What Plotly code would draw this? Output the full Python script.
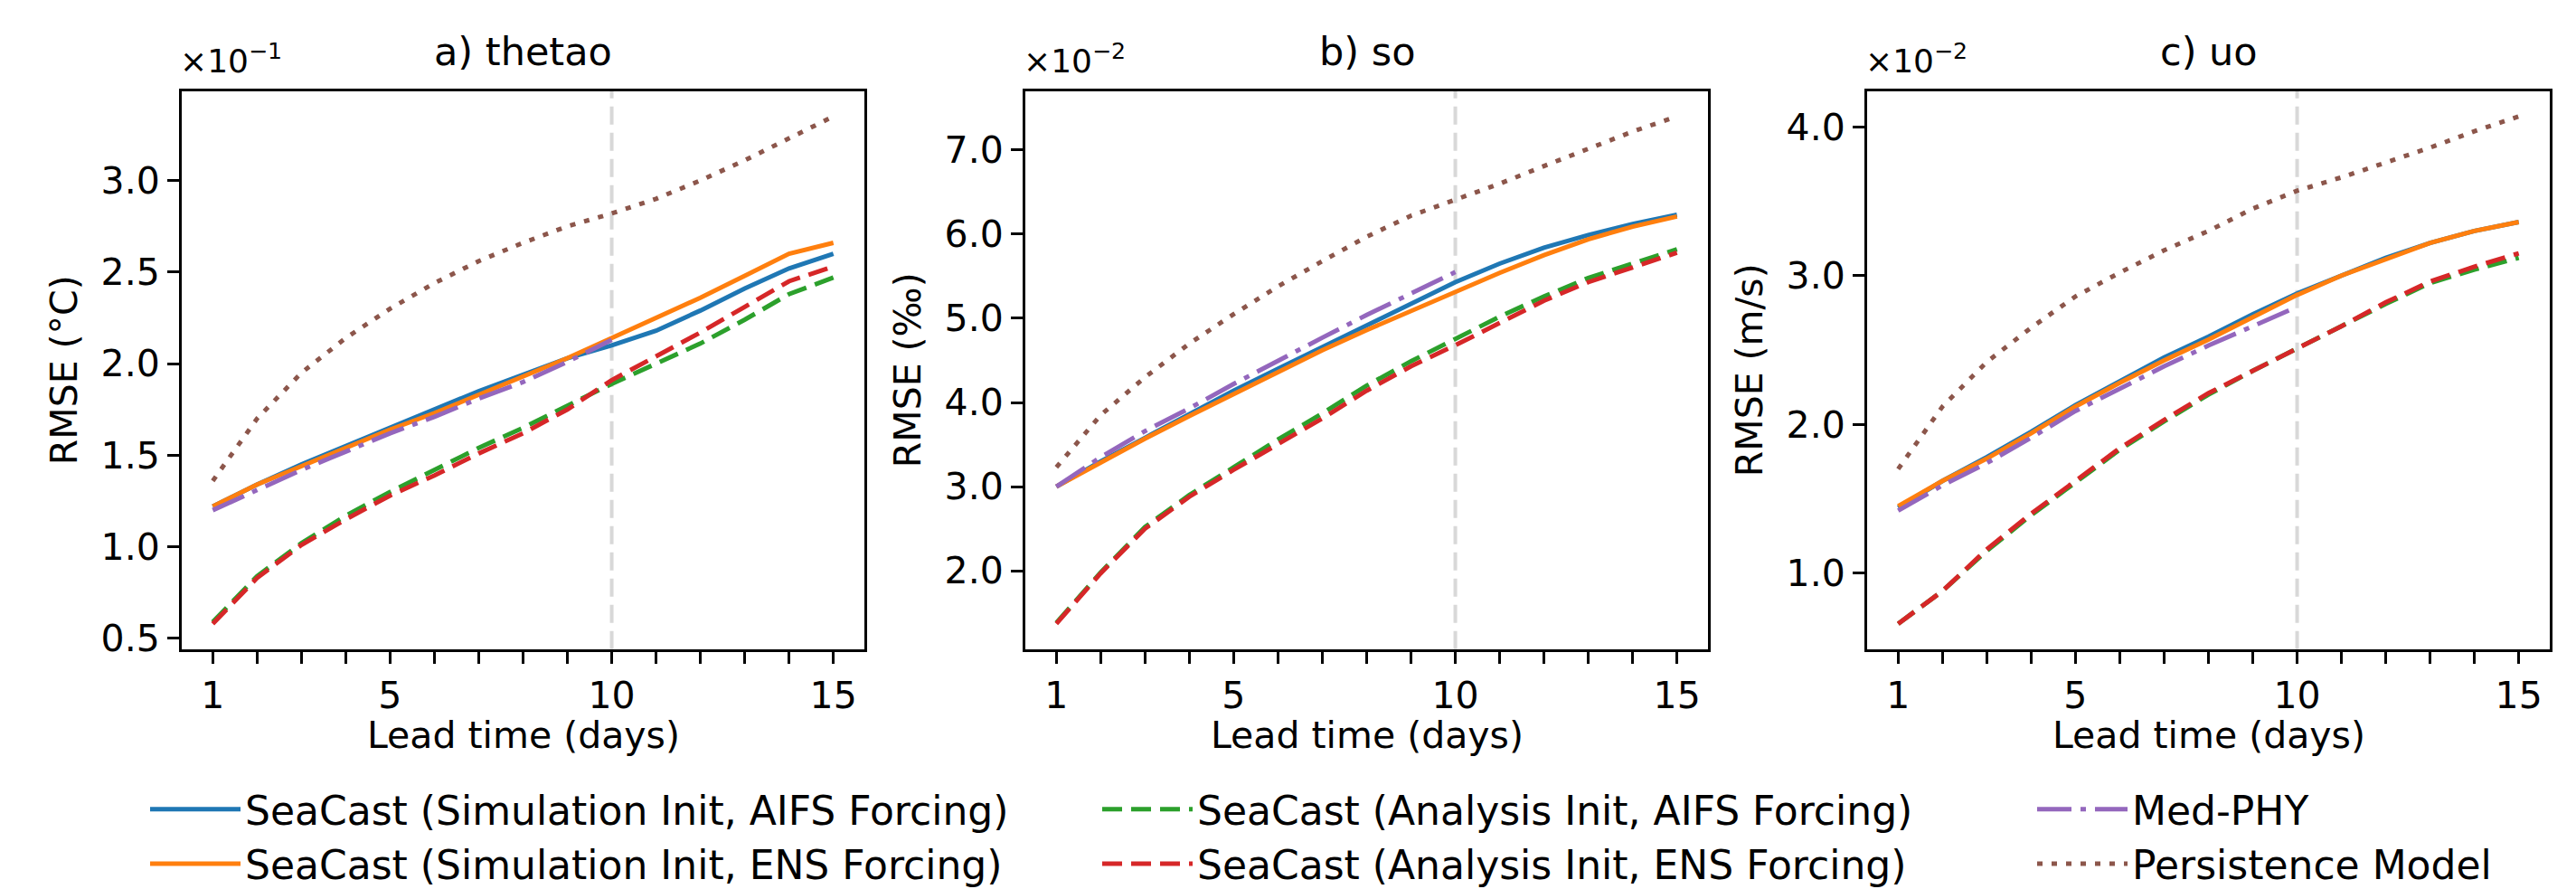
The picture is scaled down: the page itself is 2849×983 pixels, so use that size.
import plotly.graph_objects as go

# ---------------- data (values in the units shown on the axes, i.e. scaled) ----------------
days = list(range(1, 16))
days_medphy = list(range(1, 11))

series_names = [
    "SeaCast (Simulation Init, AIFS Forcing)",
    "SeaCast (Simulation Init, ENS Forcing)",
    "SeaCast (Analysis Init, AIFS Forcing)",
    "SeaCast (Analysis Init, ENS Forcing)",
    "Med-PHY",
    "Persistence Model",
]

# a) thetao  (x10^-1 °C)
sim_aifs_a = [1.22, 1.34, 1.45, 1.55, 1.65, 1.75, 1.85, 1.94, 2.03, 2.10, 2.18, 2.29, 2.41, 2.52, 2.60]
sim_ens_a = [1.22, 1.34, 1.44, 1.54, 1.64, 1.73, 1.83, 1.93, 2.03, 2.14, 2.25, 2.36, 2.48, 2.60, 2.66]
ana_aifs_a = [0.59, 0.84, 1.02, 1.17, 1.30, 1.42, 1.54, 1.65, 1.77, 1.89, 2.00, 2.11, 2.24, 2.38, 2.47]
ana_ens_a = [0.58, 0.83, 1.01, 1.15, 1.28, 1.39, 1.51, 1.62, 1.75, 1.91, 2.04, 2.17, 2.31, 2.45, 2.53]
medphy_a = [1.20, 1.31, 1.42, 1.52, 1.62, 1.71, 1.81, 1.90, 2.01, 2.13]
persist_a = [1.36, 1.70, 1.95, 2.14, 2.30, 2.44, 2.56, 2.66, 2.75, 2.82, 2.90, 3.00, 3.11, 3.23, 3.35]

# b) so  (x10^-2 ‰)
sim_aifs_b = [3.00, 3.30, 3.58, 3.86, 4.14, 4.40, 4.66, 4.91, 5.18, 5.43, 5.65, 5.84, 5.99, 6.12, 6.23]
sim_ens_b = [3.00, 3.29, 3.57, 3.84, 4.10, 4.37, 4.62, 4.86, 5.09, 5.32, 5.54, 5.75, 5.94, 6.09, 6.21]
ana_aifs_b = [1.38, 1.98, 2.52, 2.90, 3.23, 3.56, 3.87, 4.20, 4.49, 4.75, 5.02, 5.26, 5.48, 5.65, 5.82]
ana_ens_b = [1.37, 1.97, 2.50, 2.88, 3.20, 3.50, 3.81, 4.14, 4.43, 4.68, 4.95, 5.21, 5.43, 5.61, 5.78]
medphy_b = [3.00, 3.35, 3.66, 3.93, 4.22, 4.50, 4.77, 5.04, 5.29, 5.55]
persist_b = [3.23, 3.85, 4.30, 4.70, 5.05, 5.38, 5.68, 5.97, 6.22, 6.41, 6.60, 6.81, 7.02, 7.22, 7.40]

# c) uo  (x10^-2 m/s)
sim_aifs_c = [1.44, 1.62, 1.78, 1.95, 2.13, 2.29, 2.45, 2.59, 2.74, 2.88, 3.00, 3.12, 3.22, 3.30, 3.36]
sim_ens_c = [1.45, 1.62, 1.77, 1.94, 2.12, 2.28, 2.43, 2.57, 2.72, 2.87, 3.00, 3.11, 3.22, 3.30, 3.36]
ana_aifs_c = [0.66, 0.88, 1.15, 1.39, 1.61, 1.83, 2.02, 2.20, 2.36, 2.51, 2.66, 2.81, 2.95, 3.04, 3.12]
ana_ens_c = [0.66, 0.88, 1.16, 1.40, 1.62, 1.84, 2.03, 2.21, 2.36, 2.51, 2.66, 2.82, 2.96, 3.06, 3.15]
medphy_c = [1.42, 1.59, 1.74, 1.91, 2.09, 2.24, 2.39, 2.53, 2.66, 2.79]
persist_c = [1.70, 2.12, 2.42, 2.65, 2.86, 3.02, 3.17, 3.30, 3.45, 3.57, 3.66, 3.76, 3.86, 3.97, 4.07]

panel_titles = ["a) thetao", "b) so", "c) uo"]
y_titles = ["RMSE (°C)", "RMSE (‰)", "RMSE (m/s)"]
offset_texts = ["×10<sup>−1</sup>", "×10<sup>−2</sup>", "×10<sup>−2</sup>"]
y_tickvals = [[0.5, 1.0, 1.5, 2.0, 2.5, 3.0], [2, 3, 4, 5, 6, 7], [1, 2, 3, 4]]
x_label = "Lead time (days)"
x_labelled = [1, 5, 10, 15]
split_day = 10

panel_data = [
    [sim_aifs_a, sim_ens_a, ana_aifs_a, ana_ens_a, medphy_a, persist_a],
    [sim_aifs_b, sim_ens_b, ana_aifs_b, ana_ens_b, medphy_b, persist_b],
    [sim_aifs_c, sim_ens_c, ana_aifs_c, ana_ens_c, medphy_c, persist_c],
]

# ---------------- styles ----------------
LW = 5
colors = ["#1f77b4", "#ff7f0e", "#2ca02c", "#d62728", "#9467bd", "#8c564b"]
dashes = ["solid", "solid", "22px,10px", "22px,10px", "38px,10px,6px,10px", "6px,10px"]
legend_ids = ["legend", "legend", "legend2", "legend2", "legend3", "legend3"]

W, H = 2849, 983
FONT = "DejaVu Sans"
TICK_FS = 41
LABEL_FS = 41
TITLE_FS = 43
LEGEND_FS = 44
OFFSET_FS = 36
box_top, box_bottom = 94, 720
x_px = [(193, 948), (1126, 1881), (2057, 2812)]

fig = go.Figure()

for i in range(3):
    sfx = "" if i == 0 else str(i + 1)
    xa, ya = "x" + sfx, "y" + sfx
    for k in range(6):
        xs = days_medphy if k == 4 else days
        fig.add_trace(go.Scatter(
            x=xs, y=panel_data[i][k], mode="lines", name=series_names[k],
            line=dict(color=colors[k], width=LW, dash=dashes[k]),
            showlegend=(i == 0), legend=legend_ids[k],
            xaxis=xa, yaxis=ya, hoverinfo="skip",
        ))
    allv = [v for s in panel_data[i] for v in s]
    lo, hi = min(allv), max(allv)
    pad = 0.05 * (hi - lo)
    x0, x1 = x_px[i]
    fig.update_layout(**{
        "xaxis" + sfx: dict(
            domain=[x0 / W, x1 / W], anchor=ya, range=[0.3, 15.7],
            tickmode="array", tickvals=x_labelled, ticktext=[str(d) for d in x_labelled],
            ticks="outside", ticklen=13, tickwidth=3, tickcolor="black",
            minor=dict(tickmode="array", tickvals=days, ticks="outside",
                       ticklen=13, tickwidth=3, tickcolor="black", showgrid=False),
            showline=True, linecolor="black", linewidth=3, mirror=True,
            showgrid=False, zeroline=False,
            tickfont=dict(family=FONT, size=TICK_FS, color="black"),
        ),
        "yaxis" + sfx: dict(
            domain=[1 - box_bottom / H, 1 - box_top / H], anchor=xa,
            range=[lo - pad, hi + pad],
            tickmode="array", tickvals=y_tickvals[i],
            ticktext=[f"{v:.1f}" for v in y_tickvals[i]],
            ticks="outside", ticklen=13, tickwidth=3, tickcolor="black",
            showline=True, linecolor="black", linewidth=3, mirror=True,
            showgrid=False, zeroline=False,
            tickfont=dict(family=FONT, size=TICK_FS, color="black"),
        ),
    })
    fig.add_shape(type="line", xref=xa, x0=split_day, x1=split_day,
                  yref=ya + " domain", y0=0, y1=1, layer="below",
                  line=dict(color="#d8d8d8", width=4, dash="20px,9px"))
    dom = xa + " domain"
    ydom = ya + " domain"
    fig.add_annotation(text=panel_titles[i], xref=dom, x=0.5, yref=ydom, y=1,
                       yshift=44, yanchor="middle", xanchor="center", showarrow=False,
                       font=dict(family=FONT, size=TITLE_FS, color="black"))
    fig.add_annotation(text=offset_texts[i], xref=dom, x=0, yref=ydom, y=1,
                       yshift=36, xshift=-4, yanchor="middle", xanchor="left", showarrow=False,
                       font=dict(family=FONT, size=OFFSET_FS, color="black"))
    fig.add_annotation(text=x_label, xref=dom, x=0.5, yref=ydom, y=0,
                       yshift=-95, yanchor="middle", xanchor="center", showarrow=False,
                       font=dict(family=FONT, size=LABEL_FS, color="black"))
    fig.add_annotation(text=y_titles[i], xref=dom, x=0, yref=ydom, y=0.5,
                       xshift=-130, xanchor="center", yanchor="middle", textangle=-90,
                       showarrow=False, font=dict(family=FONT, size=LABEL_FS, color="black"))

leg_common = dict(orientation="v", xanchor="left", yanchor="top", itemwidth=100,
                  bgcolor="rgba(0,0,0,0)", tracegroupgap=0,
                  font=dict(family=FONT, size=LEGEND_FS, color="black"))
leg_y = 1 - 864 / H
fig.update_layout(
    width=W, height=H,
    margin=dict(l=0, r=0, t=0, b=0),
    paper_bgcolor="white", plot_bgcolor="white",
    legend=dict(x=153 / W, y=leg_y, **leg_common),
    legend2=dict(x=1206 / W, y=leg_y, **leg_common),
    legend3=dict(x=2240 / W, y=leg_y, **leg_common),
)

fig.write_html("out.html")
